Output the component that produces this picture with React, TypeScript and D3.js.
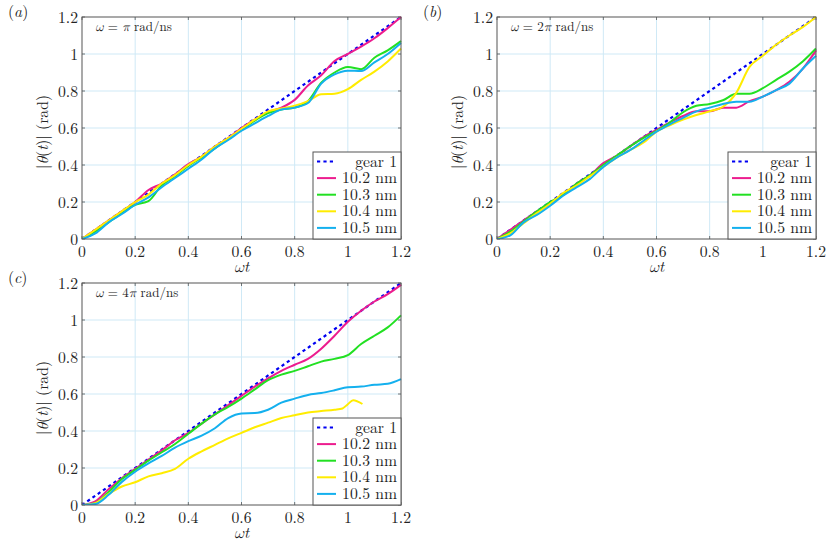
import * as React from 'react';
import * as d3 from 'd3';

// time grid (ωt) used by the simulated curves
const t = [
  0, 0.05, 0.1, 0.15, 0.2, 0.25, 0.3, 0.35, 0.4, 0.45, 0.5, 0.55, 0.6,
  0.65, 0.7, 0.75, 0.8, 0.85, 0.9, 0.95, 1.0, 1.05, 1.1, 1.15, 1.2,
];
const tShort = [
  0, 0.05, 0.1, 0.15, 0.2, 0.25, 0.3, 0.35, 0.4, 0.45, 0.5, 0.55, 0.6,
  0.65, 0.7, 0.75, 0.8, 0.85, 0.9, 0.95, 0.98, 1.0, 1.02, 1.055,
];

const tickValues = [0, 0.2, 0.4, 0.6, 0.8, 1, 1.2];
const tickLabels = ['0', '0.2', '0.4', '0.6', '0.8', '1', '1.2'];

const seriesNames = ['gear 1', '10.2 nm', '10.3 nm', '10.4 nm', '10.5 nm'];
const seriesColors = ['#0000f2', '#ec1c8e', '#22e022', '#ffec00', '#14b0ee'];

const gearT = [0, 1.2];
const gearValues = [0, 1.2];

// (a) ω = π rad/ns
const a102 = [0, 0.05, 0.1, 0.15, 0.2, 0.265, 0.3, 0.35, 0.405, 0.445, 0.5, 0.545, 0.6, 0.645, 0.685, 0.71, 0.752, 0.83, 0.885, 0.962, 1.0, 1.04, 1.085, 1.14, 1.2];
const a103 = [0, 0.04, 0.09, 0.14, 0.185, 0.205, 0.29, 0.34, 0.395, 0.44, 0.49, 0.54, 0.59, 0.64, 0.68, 0.7, 0.71, 0.745, 0.845, 0.9, 0.93, 0.918, 0.98, 1.02, 1.07];
const a104 = [0, 0.05, 0.1, 0.15, 0.2, 0.24, 0.3, 0.345, 0.4, 0.445, 0.5, 0.545, 0.595, 0.645, 0.69, 0.705, 0.72, 0.745, 0.782, 0.785, 0.81, 0.86, 0.905, 0.96, 1.03];
const a105 = [0, 0.03, 0.09, 0.135, 0.185, 0.225, 0.28, 0.33, 0.38, 0.43, 0.49, 0.535, 0.585, 0.625, 0.665, 0.7, 0.71, 0.735, 0.84, 0.89, 0.91, 0.908, 0.955, 1.0, 1.06];

// (b) ω = 2π rad/ns
const b102 = [0, 0.05, 0.1, 0.15, 0.19, 0.24, 0.3, 0.345, 0.41, 0.45, 0.5, 0.55, 0.59, 0.63, 0.665, 0.69, 0.69, 0.71, 0.71, 0.745, 0.77, 0.805, 0.85, 0.92, 1.02];
const b103 = [0, 0.04, 0.095, 0.15, 0.2, 0.24, 0.3, 0.345, 0.4, 0.45, 0.5, 0.545, 0.585, 0.63, 0.685, 0.72, 0.73, 0.75, 0.785, 0.785, 0.815, 0.86, 0.905, 0.96, 1.03];
const b104 = [0, 0.03, 0.085, 0.14, 0.19, 0.25, 0.29, 0.34, 0.39, 0.44, 0.48, 0.52, 0.58, 0.615, 0.645, 0.67, 0.69, 0.715, 0.79, 0.93, 0.99, 1.05, 1.1, 1.145, 1.2];
const b105 = [0, 0.02, 0.09, 0.13, 0.18, 0.235, 0.28, 0.325, 0.39, 0.44, 0.48, 0.53, 0.58, 0.62, 0.655, 0.69, 0.71, 0.73, 0.742, 0.742, 0.77, 0.805, 0.84, 0.92, 0.99];

// (c) ω = 4π rad/ns
const c102 = [0, 0.02, 0.085, 0.145, 0.195, 0.245, 0.295, 0.35, 0.39, 0.44, 0.49, 0.54, 0.59, 0.64, 0.685, 0.725, 0.758, 0.79, 0.845, 0.915, 0.99, 1.05, 1.1, 1.14, 1.19];
const c103 = [0, 0.01, 0.07, 0.14, 0.19, 0.24, 0.285, 0.33, 0.385, 0.44, 0.49, 0.53, 0.575, 0.625, 0.675, 0.705, 0.725, 0.75, 0.775, 0.79, 0.81, 0.87, 0.915, 0.96, 1.025];
const c104 = [0, 0.01, 0.06, 0.1, 0.123, 0.155, 0.172, 0.195, 0.25, 0.29, 0.325, 0.36, 0.39, 0.42, 0.445, 0.47, 0.485, 0.5, 0.508, 0.515, 0.522, 0.545, 0.566, 0.546];
const c105 = [0, 0.005, 0.055, 0.125, 0.18, 0.225, 0.265, 0.31, 0.345, 0.375, 0.415, 0.47, 0.495, 0.497, 0.515, 0.553, 0.575, 0.595, 0.605, 0.62, 0.637, 0.64, 0.65, 0.655, 0.68];

interface Series {
  name: string;
  color: string;
  ts: number[];
  values: number[];
  dashed?: boolean;
}

const makeSeries = (vals: number[][], lastT?: number[]): Series[] =>
  seriesNames.map((name, i) => {
    if (i === 0) return { name, color: seriesColors[0], ts: gearT, values: gearValues, dashed: true };
    const values = vals[i - 1];
    const ts = lastT && i === 3 ? lastT : t;
    return { name, color: seriesColors[i], ts, values };
  });

const panelW = 319;
const panelH = 222;
const serif = "'Latin Modern Roman', 'Latin Modern Math', 'Liberation Serif', serif";
const greek = "'Latin Modern Math', 'Liberation Serif', serif";
const fs = 15.7;

interface PanelProps {
  left: number;
  top: number;
  tag: string;
  omega: string;
  series: Series[];
}

function Panel({ left, top, tag, omega, series }: PanelProps) {
  const x = d3.scaleLinear().domain([0, 1.2]).range([0, panelW]);
  const y = d3.scaleLinear().domain([0, 1.2]).range([panelH, 0]);

  const line = d3
    .line<[number, number]>()
    .x(d => x(d[0]))
    .y(d => y(d[1]))
    .curve(d3.curveMonotoneX);

  const legW = 88;
  const legH = 87;
  const rowH = 16.6;
  const clipId = `clip-${tag}`;
  const txt = { fontFamily: serif, fill: '#222' };
  const gk = { fontFamily: greek, fontStyle: 'italic' as const };
  const it = { fontStyle: 'italic' as const };

  return (
    <g transform={`translate(${left},${top})`}>
      <defs>
        <clipPath id={clipId}>
          <rect x={0} y={-2} width={panelW + 2} height={panelH + 2} />
        </clipPath>
      </defs>

      {/* grid */}
      {tickValues.slice(1, -1).map(v => (
        <g key={`g${v}`}>
          <line x1={x(v)} x2={x(v)} y1={0} y2={panelH} stroke="#cfe9f6" strokeWidth={1} />
          <line x1={0} x2={panelW} y1={y(v)} y2={y(v)} stroke="#cfe9f6" strokeWidth={1} />
        </g>
      ))}

      {/* ticks */}
      {tickValues.map(v => (
        <g key={`t${v}`} stroke="#555" strokeWidth={0.8}>
          <line x1={x(v)} x2={x(v)} y1={panelH} y2={panelH - 3} />
          <line x1={x(v)} x2={x(v)} y1={0} y2={3} />
          <line x1={0} x2={3} y1={y(v)} y2={y(v)} />
          <line x1={panelW} x2={panelW - 3} y1={y(v)} y2={y(v)} />
        </g>
      ))}

      {/* curves */}
      <g clipPath={`url(#${clipId})`}>
        {series.map(s => (
          <path
            key={s.name}
            d={line(s.ts.map((tv, i) => [tv, s.values[i]] as [number, number])) || ''}
            fill="none"
            stroke={s.color}
            strokeWidth={s.dashed ? 2.2 : 2}
            strokeDasharray={s.dashed ? '3.2,3.2' : undefined}
          />
        ))}
      </g>

      {/* frame */}
      <rect x={0} y={0} width={panelW} height={panelH} fill="none" stroke="#555" strokeWidth={1} />

      {/* tick labels */}
      {tickValues.map((v, i) => (
        <text key={`xl${v}`} x={x(v)} y={panelH + 18} textAnchor="middle" style={{ ...txt, fontSize: fs }}>
          {tickLabels[i]}
        </text>
      ))}
      {tickValues.map((v, i) => (
        <text key={`yl${v}`} x={-4} y={y(v) + 5.5} textAnchor="end" style={{ ...txt, fontSize: fs }}>
          {tickLabels[i]}
        </text>
      ))}

      {/* axis labels */}
      <text x={panelW / 2} y={panelH + 33} textAnchor="middle" style={{ ...txt, fontSize: fs }}>
        <tspan style={gk}>ω</tspan><tspan style={it}>t</tspan>
      </text>
      <text
        transform={`translate(${-34},${panelH / 2 + 4}) rotate(-90)`}
        textAnchor="middle"
        style={{ ...txt, fontSize: fs }}
      >
        |<tspan style={gk}>θ</tspan>(<tspan style={it}>t</tspan>)| (rad)
      </text>

      {/* panel tag */}
      <text x={-74} y={0} style={{ ...txt, fontSize: fs }}>
        (<tspan style={it}>{tag}</tspan>)
      </text>

      {/* omega annotation */}
      <text x={13} y={13.5} style={{ ...txt, fontSize: 13 }}>
        <tspan style={gk}>ω</tspan> = {omega.length > 1 ? omega[0] : ''}<tspan style={gk}>π</tspan> rad/ns
      </text>

      {/* legend */}
      <g transform={`translate(${panelW - legW},${panelH - legH})`}>
        <rect x={0} y={0} width={legW} height={legH} fill="#fff" stroke="#555" strokeWidth={1} />
        {series.map((s, i) => {
          const cy = 9.5 + i * rowH;
          return (
            <g key={`lg${s.name}`}>
              <line
                x1={4}
                x2={23}
                y1={cy}
                y2={cy}
                stroke={s.color}
                strokeWidth={s.dashed ? 2.2 : 2}
                strokeDasharray={s.dashed ? '3.2,3.2' : undefined}
              />
              <text x={legW - 4} y={cy + 5} textAnchor="end" style={{ ...txt, fontSize: fs }}>
                {s.name}
              </text>
            </g>
          );
        })}
      </g>
    </g>
  );
}

export default function App() {
  const seriesA = makeSeries([a102, a103, a104, a105]);
  const seriesB = makeSeries([b102, b103, b104, b105]);
  const seriesC = makeSeries([c102, c103, c104, c105], tShort);

  return (
    <svg
      width={830}
      height={542}
      style={{ position: 'absolute', left: 0, top: 0, background: '#fff' }}
    >
      <Panel left={82} top={17} tag="a" omega="π" series={seriesA} />
      <Panel left={497} top={17} tag="b" omega="2π" series={seriesB} />
      <Panel left={82} top={283} tag="c" omega="4π" series={seriesC} />
    </svg>
  );
}
